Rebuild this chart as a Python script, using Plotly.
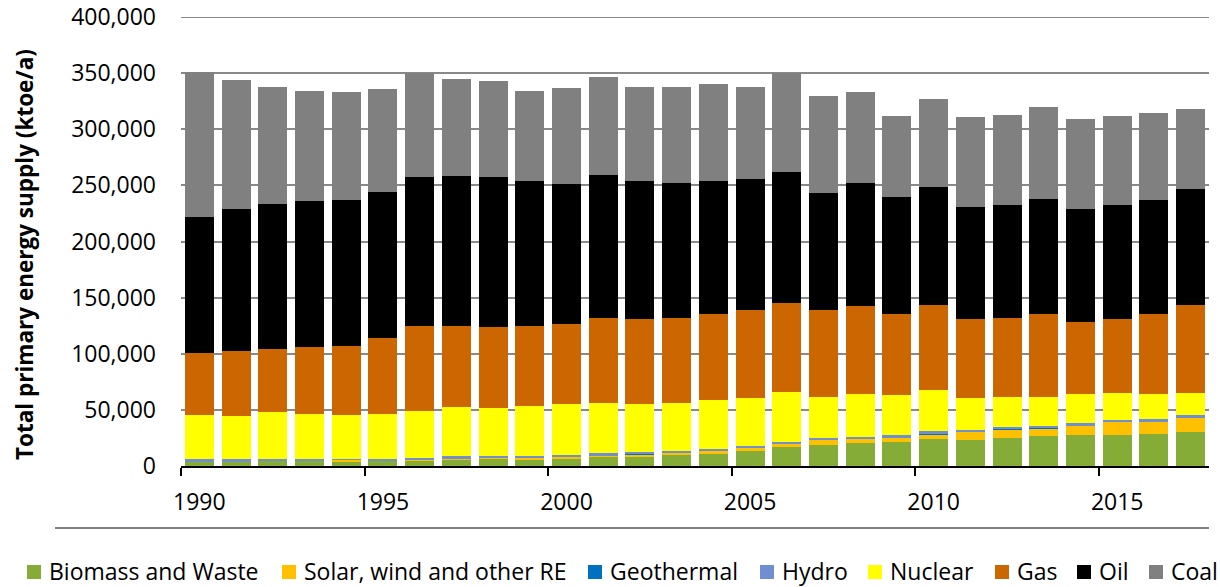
import plotly.graph_objects as go

# Total primary energy supply by source, ktoe per year
years = list(range(1990, 2018))

biomass = [3900, 3900, 4500, 4500, 3900, 5000, 5300, 6200, 7100, 6200,
           7100, 8600, 8300, 9500, 10400, 13000, 16600, 18700, 20200, 21400,
           23800, 23500, 25200, 26700, 27900, 27900, 28800, 30500]
solar_wind = [0, 0, 0, 0, 1500, 100, 100, 100, 200, 1000,
              1500, 500, 2100, 2100, 3000, 3600, 3600, 4800, 3900, 3600,
              4500, 6800, 7400, 7100, 8000, 11300, 10700, 12500]
geothermal = [100, 100, 100, 100, 100, 100, 100, 100, 100, 100,
              100, 100, 100, 100, 100, 100, 100, 100, 100, 100,
              100, 100, 100, 100, 100, 100, 100, 100]
hydro = [1800, 1800, 2000, 2000, 1000, 1200, 1800, 2100, 1200, 1200,
         1200, 2000, 1800, 1800, 1800, 1200, 1500, 1500, 1800, 2400,
         3000, 1500, 2100, 2100, 2400, 1800, 2400, 2700]
nuclear = [39600, 38500, 41200, 40000, 38900, 40200, 41700, 44100, 42800, 45200,
           45100, 44900, 42700, 42600, 43200, 43000, 43800, 36600, 38100, 35500,
           36300, 29000, 26900, 25700, 25700, 24200, 22100, 19500]
gas = [55500, 58100, 56700, 59100, 61500, 67400, 76000, 72400, 72400, 71300,
       71200, 75700, 75700, 75700, 76900, 78100, 79300, 77300, 78400, 72400,
       76000, 69800, 70100, 73700, 64200, 65400, 71300, 78400]
oil = [120900, 126300, 129200, 130100, 130400, 130100, 132200, 133600, 133400, 128600,
       125300, 127700, 122900, 120600, 118200, 116700, 117000, 103900, 109600, 103900,
       104900, 100000, 100400, 102500, 100400, 101500, 101600, 102800]
coal = [128900, 115200, 104200, 98600, 95900, 91500, 92800, 86500, 85500, 80800,
        85200, 86700, 84300, 85500, 86700, 82200, 88100, 86700, 81100, 72500,
        78600, 79900, 80800, 82200, 80700, 79600, 77200, 71200]

series = [
    ("Biomass and Waste", biomass, "#84AC36"),
    ("Solar, wind and other RE", solar_wind, "#FFC000"),
    ("Geothermal", geothermal, "#0070C0"),
    ("Hydro", hydro, "#6F8FD2"),
    ("Nuclear", nuclear, "#FFFF00"),
    ("Gas", gas, "#CC6600"),
    ("Oil", oil, "#000000"),
    ("Coal", coal, "#808080"),
]

y_ticks = list(range(0, 400001, 50000))
x_ticks = [1990, 1995, 2000, 2005, 2010, 2015]

FONT = "Open Sans"

# page geometry (pixels)
ML, MR, MT, MB = 181, 11, 17, 121
W, H = 1220, 587
plot_w = W - ML - MR
plot_h = H - MT - MB


def px_x(px):
    return (px - ML) / plot_w


def px_y(py):
    return (H - MB - py) / plot_h


fig = go.Figure()
for name, values, color in series:
    fig.add_trace(go.Bar(
        x=years, y=values, name=name,
        marker=dict(color=color, line=dict(width=0)),
        width=0.79,
        showlegend=False,
    ))

# one-row legend below the chart: swatch left edges in pixels
legend_x = [27, 282, 588, 760, 868, 995, 1077, 1149]
legend_cy = 572
swatch = 14

shapes = [
    # top gridline at the upper end of the value range
    dict(
        type="line", xref="paper", yref="y", layer="below",
        x0=0, x1=1, y0=y_ticks[-1], y1=y_ticks[-1],
        line=dict(color="#898989", width=2),
    ),
    # rule between the axis and the legend
    dict(
        type="line", xref="paper", yref="paper",
        x0=px_x(55), x1=1.0, y0=px_y(528), y1=px_y(528),
        line=dict(color="#000000", width=1),
    ),
]
annotations = [
    dict(
        text="<b>Total primary energy supply (ktoe/a)</b>",
        xref="paper", yref="paper",
        x=px_x(24), y=px_y(255),
        xanchor="center", yanchor="middle",
        textangle=-90, showarrow=False,
        font=dict(family=FONT, size=22.5, color="#000000"),
    )
]
for (name, _, color), lx in zip(series, legend_x):
    shapes.append(dict(
        type="rect", xref="paper", yref="paper",
        x0=px_x(lx), x1=px_x(lx + swatch),
        y0=px_y(legend_cy + swatch / 2), y1=px_y(legend_cy - swatch / 2),
        fillcolor=color, line=dict(width=0),
    ))
    annotations.append(dict(
        text=name, xref="paper", yref="paper",
        x=px_x(lx + swatch + 6), y=px_y(legend_cy - 1),
        xanchor="left", yanchor="middle", showarrow=False,
        font=dict(family=FONT, size=23, color="#000000"),
    ))

fig.update_layout(
    width=W, height=H,
    barmode="stack",
    margin=dict(l=ML, r=MR, t=MT, b=MB, pad=0, autoexpand=False),
    paper_bgcolor="white",
    plot_bgcolor="white",
    font=dict(family=FONT, size=23, color="#000000"),
    showlegend=False,
    xaxis=dict(
        range=[1989.5, 2017.5],
        automargin=False,
        tickmode="array",
        tickvals=x_ticks,
        ticktext=[str(v) for v in x_ticks],
        ticks="",
        ticklabelstandoff=14,
        showgrid=False,
        zeroline=False,
        showline=True,
        linecolor="#000000",
        linewidth=2,
        tickfont=dict(family=FONT, size=23, color="#000000"),
        minor=dict(
            tick0=1989.5, dtick=5,
            ticks="outside", ticklen=8, tickwidth=2, tickcolor="#000000",
            showgrid=False,
        ),
        fixedrange=True,
    ),
    yaxis=dict(
        range=[0, 400000],
        automargin=False,
        tickmode="array",
        tickvals=y_ticks,
        tickformat=",",
        ticks="",
        ticklabelstandoff=24,
        showgrid=True,
        gridcolor="#898989",
        gridwidth=2,
        zeroline=False,
        showline=False,
        tickfont=dict(family=FONT, size=23, color="#000000"),
        fixedrange=True,
    ),
    annotations=annotations,
    shapes=shapes,
)

fig.write_html("out.html", include_plotlyjs=True, config={"displayModeBar": False})
